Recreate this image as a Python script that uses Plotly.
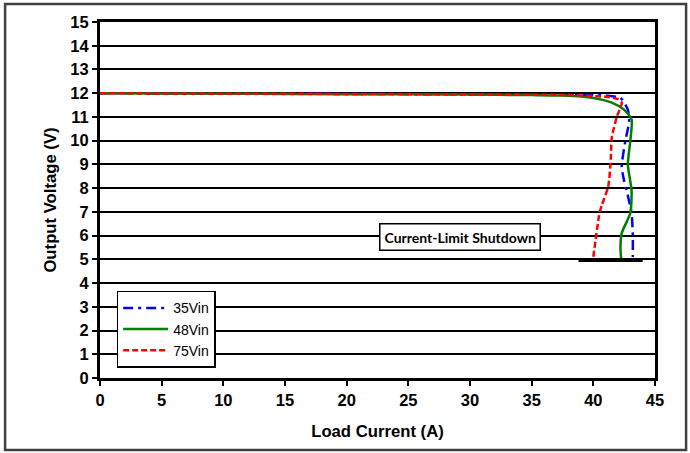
import plotly.graph_objects as go

# Data
x35 = [0, 10, 20, 30, 38, 41, 42.2, 42.8, 42.9, 42.6, 42.3, 42.5, 42.7, 43.1, 43.2, 43.2]
y35 = [12.0, 11.98, 11.97, 11.95, 11.93, 11.9, 11.8, 11.3, 10.8, 10.0, 8.9, 8.3, 7.9, 6.95, 6.0, 5.1]

x48 = [0, 10, 20, 30, 35, 37.5, 40, 41.5, 42.5, 43.1, 43.0, 42.8, 43.1, 43.0, 42.3, 42.2, 42.25]
y48 = [12.0, 11.98, 11.96, 11.94, 11.92, 11.9, 11.8, 11.6, 11.3, 10.9, 10.0, 9.0, 7.9, 6.95, 6.1, 5.5, 5.05]

x75 = [0, 10, 20, 30, 38, 41, 42.0, 42.3, 41.9, 41.5, 41.4, 41.2, 40.7, 40.5, 40.0]
y75 = [12.0, 11.98, 11.97, 11.95, 11.92, 11.85, 11.75, 11.6, 11.0, 10.15, 9.06, 8.05, 7.3, 6.95, 5.1]

shutdown_x = [38.8, 44.0]
shutdown_y = [4.95, 4.95]

x_ticks = [0, 5, 10, 15, 20, 25, 30, 35, 40, 45]
y_ticks = list(range(0, 16))

FONT = "Liberation Sans"

fig = go.Figure()
fig.add_trace(go.Scatter(x=shutdown_x, y=shutdown_y, mode="lines", showlegend=False,
                         line=dict(color="black", width=3), hoverinfo="skip"))
fig.add_trace(go.Scatter(x=x35, y=y35, mode="lines", name="35Vin",
                         line=dict(color="#0000FF", width=2.5, dash="10px,5px,3px,5px", shape="spline", smoothing=0.6)))
fig.add_trace(go.Scatter(x=x48, y=y48, mode="lines", name="48Vin",
                         line=dict(color="#008000", width=2.5, shape="spline", smoothing=0.6)))
fig.add_trace(go.Scatter(x=x75, y=y75, mode="lines", name="75Vin",
                         line=dict(color="#FF0000", width=2.5, dash="6px,3px", shape="spline", smoothing=0.6)))

axis_font = dict(family=FONT, size=16.5, color="black", weight="bold")
title_font = dict(family=FONT, size=16.7, color="black", weight="bold")

fig.update_layout(
    width=690, height=453,
    margin=dict(l=100, r=35, t=22, b=75),
    paper_bgcolor="white", plot_bgcolor="white",
    font=dict(family=FONT, color="black"),
    xaxis=dict(range=[0, 45], tickvals=x_ticks,
               tickfont=axis_font, showgrid=False, zeroline=False,
               showline=True, linecolor="black", linewidth=3, mirror=True,
               ticks="outside", ticklen=5, tickwidth=2, tickcolor="black",
               title=dict(text="Load Current (A)", font=title_font, standoff=18)),
    yaxis=dict(range=[0, 15], tickvals=y_ticks,
               tickfont=axis_font, showgrid=True, gridcolor="black", gridwidth=1.5, zeroline=False,
               showline=True, linecolor="black", linewidth=3, mirror=True,
               ticks="outside", ticklen=5, tickwidth=2, tickcolor="black",
               title=dict(text="Output Voltage (V)", font=title_font, standoff=10)),
    legend=dict(x=0.03, y=0.245, xanchor="left", yanchor="top",
                bgcolor="white", bordercolor="black", borderwidth=1.5,
                font=dict(size=14, family=FONT, color="black"),
                tracegroupgap=4, itemwidth=45),
    showlegend=True,
)

fig.add_annotation(x=29.2, y=5.94, xref="x", yref="y", text="<b>Current-Limit Shutdown</b>",
                   showarrow=False, font=dict(family="Lato, Open Sans", size=14, color="black"),
                   bgcolor="white", bordercolor="black", borderwidth=1.5, borderpad=4)

fig.add_shape(type="rect", xref="paper", yref="paper",
              x0=-0.171, x1=1.056, y0=-0.2022, y1=1.0506,
              line=dict(color="#404040", width=2.5), layer="above")

fig.write_html("out.html")
